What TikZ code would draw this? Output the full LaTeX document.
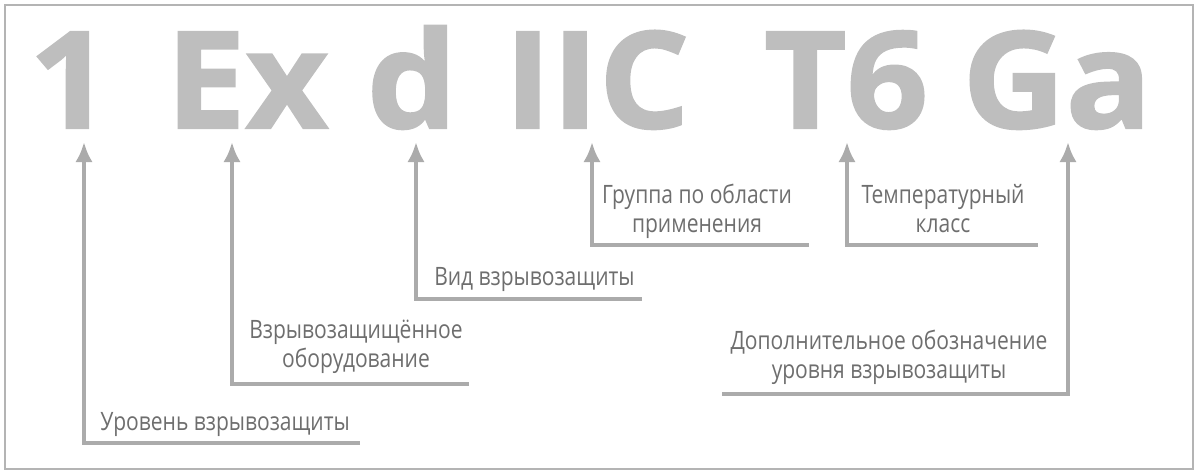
\documentclass[tikz,border=0pt]{standalone}
\usepackage{fontspec}
\setmainfont{Open Sans}
\newfontfamily\labelfont[FakeStretch=0.83]{Open Sans}
\newfontfamily\codefont[BoldFeatures={FakeBold=1.5,FakeStretch=1.06}]{Open Sans}
\usetikzlibrary{arrows.meta}
\definecolor{codegray}{HTML}{BEBEBE}
\definecolor{linegray}{HTML}{ABABAB}
\definecolor{textgray}{HTML}{6E6E6E}
\definecolor{framegray}{HTML}{B4B4B4}

\begin{document}
\begin{tikzpicture}
    [
    x=0.75pt, y=-0.75pt,
    code/.style={anchor=base, inner sep=0pt, text=codegray, font=\codefont\bfseries\fontsize{101}{101}\selectfont},
    note/.style={anchor=base, inner sep=0pt, text=textgray, align=center, font=\labelfont\fontsize{19}{21.75}\selectfont},
    bracket/.style={draw=linegray, line width=3pt, -{Latex[length=15pt,width=13pt]}}
    ]
    \useasboundingbox (0,0) rectangle (1200,475);
    \draw [framegray, line width=1.5pt] (5,5) rectangle (1193,469);

    % marking
    \node (c1) at (70,128) [code] {1};
    \node (c2) at (247,128) [code] {Ex};
    \node (c3) at (412,128) [code] {d};
    \node (c4) at (597,128) [code] {IIC};
    \node (c5) at (846,128) [code] {T6};
    \node (c6) at (1057,128) [code] {Ga};

    % labels (base = last line)
    \node (l1) at (100,430) [note, anchor=base west] {Уровень взрывозащиты};
    \node (l2) at (356,367) [note] {Взрывозащищённое\\оборудование};
    \node (l3) at (434,285) [note, anchor=base west] {Вид взрывозащиты};
    \node (l4) at (697,232) [note] {Группа по области\\применения};
    \node (l5) at (943,232) [note] {Температурный\\класс};
    \node (l6) at (889,378) [note] {Дополнительное обозначение\\уровня взрывозащиты};

    % arrow tips and line ends
    \coordinate (t1) at (84,142);   \coordinate (e1) at (360,443);
    \coordinate (t2) at (232,142);  \coordinate (e2) at (469,384);
    \coordinate (t3) at (416,142);  \coordinate (e3) at (642,299);
    \coordinate (t4) at (592,142);  \coordinate (e4) at (809,245);
    \coordinate (t5) at (847,142);  \coordinate (e5) at (1038,245);
    \coordinate (t6) at (1068,142); \coordinate (e6) at (722,394);
    \draw [bracket] (e1) -| (t1);
    \draw [bracket] (e2) -| (t2);
    \draw [bracket] (e3) -| (t3);
    \draw [bracket] (e4) -| (t4);
    \draw [bracket] (e5) -| (t5);
    \draw [bracket] (e6) -| (t6);
\end{tikzpicture}
\end{document}
